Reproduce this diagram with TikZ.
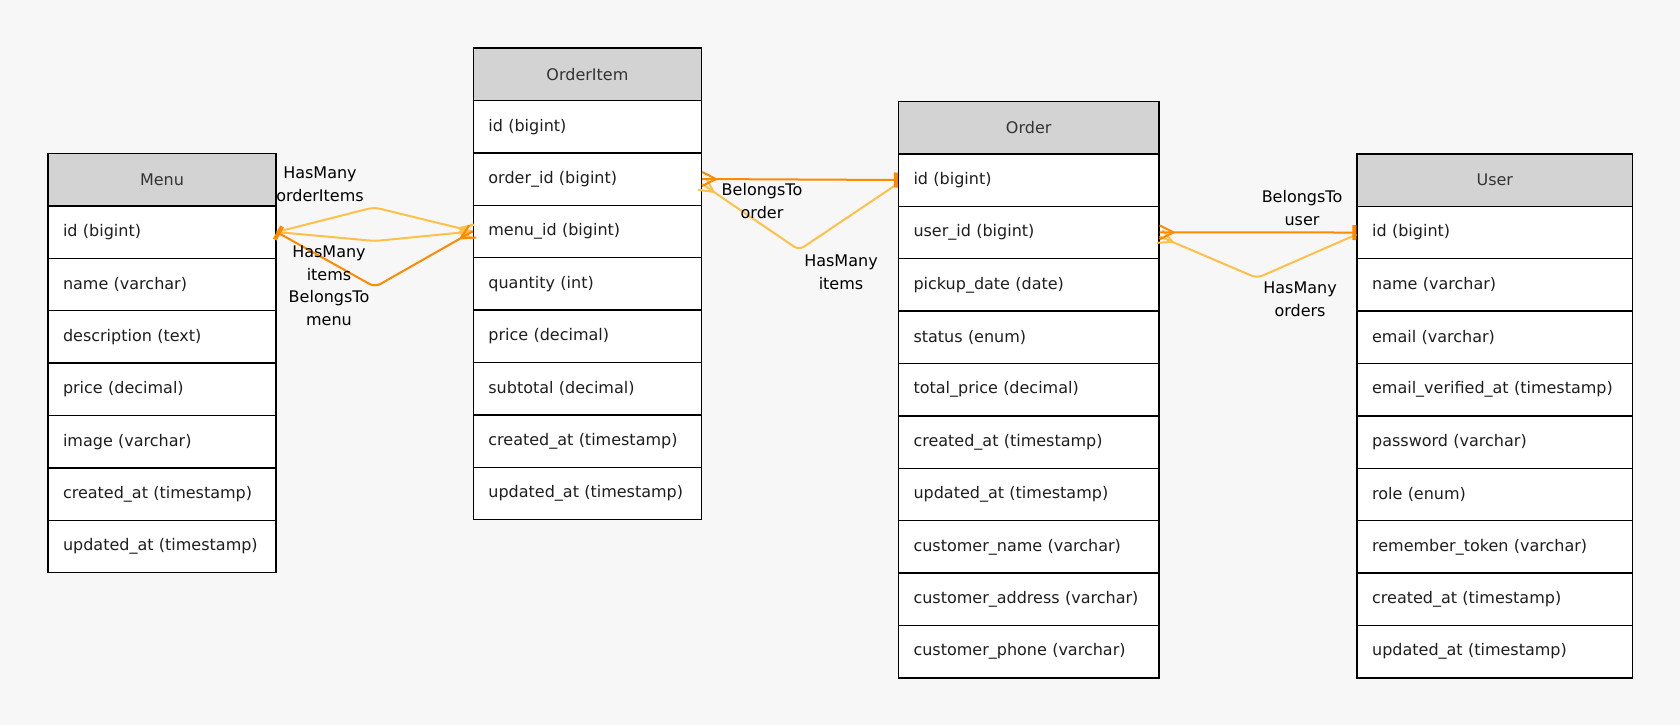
\documentclass[tikz,border=0pt]{standalone}
\usepackage{fontspec}
\setmainfont{DejaVu Sans}
\usetikzlibrary{arrows.meta}
\definecolor{bgc}{HTML}{F7F7F7}
\definecolor{hdrgray}{HTML}{D3D3D3}
\definecolor{hdrtext}{HTML}{333333}
\definecolor{rowtext}{HTML}{1E1E1E}
\definecolor{darkor}{HTML}{FF8A00}
\definecolor{lightor}{HTML}{FFC04A}
\pgfdeclarearrow{
  name = Crow,
  parameters = {\the\pgfarrowlength,\the\pgfarrowwidth},
  setup code = {
    \pgfarrowssettipend{0pt}
    \pgfarrowssetlineend{0pt}
    \pgfarrowssetbackend{-\pgfarrowlength}
    \pgfarrowssetvisualbackend{-\pgfarrowlength}
    \pgfarrowshullpoint{0pt}{.5\pgfarrowwidth}
    \pgfarrowshullpoint{0pt}{-.5\pgfarrowwidth}
    \pgfarrowshullpoint{-\pgfarrowlength}{0pt}
    \pgfarrowssavethe\pgfarrowlength
    \pgfarrowssavethe\pgfarrowwidth
  },
  drawing code = {
    \pgfsetdash{}{0pt}
    \pgfsetroundjoin
    \pgfpathmoveto{\pgfqpoint{0pt}{.5\pgfarrowwidth}}
    \pgfpathlineto{\pgfqpoint{-\pgfarrowlength}{0pt}}
    \pgfpathlineto{\pgfqpoint{0pt}{-.5\pgfarrowwidth}}
    \pgfusepathqstroke
  },
  defaults = {length=7pt, width=6pt}
}
\newcommand{\ertable}[6]{%
  \node[hdr, minimum width=#4*0.5pt] (#1-0) at (#2,#3) {#5};
  \foreach \r [count=\k] in {#6} {
    \node[rowcell, text width=#4*0.5pt-15pt] (#1-\k) at (#2,{#3+\k*52.4}) {\mbox{\r}};
  }%
}
\begin{document}
\begin{tikzpicture}[x=0.5pt,y=-0.5pt,
  hdr/.style={draw=black, line width=0.7pt, fill=hdrgray, anchor=north west,
    minimum height=26.2pt, inner sep=0pt, text=hdrtext,
    font=\fontsize{8pt}{10pt}\selectfont},
  rowcell/.style={draw=black, line width=0.7pt, fill=white, anchor=north west,
    minimum height=26.2pt, inner xsep=7.5pt, inner ysep=0pt, align=left,
    text=rowtext, font=\fontsize{8pt}{10pt}\selectfont},
  rel/.style={line width=1pt, rounded corners=3pt},
  hasmany/.style={rel, draw=lightor},
  belongs/.style={rel, draw=darkor},
  lbl/.style={align=center, inner sep=0pt, text=black,
    font=\fontsize{8pt}{11.5pt}\selectfont}]
\fill[bgc] (0,0) rectangle (1680,725);
\useasboundingbox (0,0) rectangle (1680,725);

\ertable{menu}{47.3}{152.7}{228}{Menu}{id (bigint),name (varchar),description (text),price (decimal),image (varchar),created\_at (timestamp),updated\_at (timestamp)}
\ertable{oi}{472.7}{47.3}{228}{OrderItem}{id (bigint),order\_id (bigint),menu\_id (bigint),quantity (int),price (decimal),subtotal (decimal),created\_at (timestamp),updated\_at (timestamp)}
\ertable{ord}{897.8}{100.7}{260.4}{Order}{id (bigint),user\_id (bigint),pickup\_date (date),status (enum),total\_price (decimal),created\_at (timestamp),updated\_at (timestamp),customer\_name (varchar),customer\_address (varchar),customer\_phone (varchar)}
\ertable{usr}{1356.4}{153.2}{275.4}{User}{id (bigint),name (varchar),email (varchar),email\_verified\_at (timestamp),password (varchar),role (enum),remember\_token (varchar),created\_at (timestamp),updated\_at (timestamp)}

\coordinate (b1) at (374,207.3);
\coordinate (b2) at (375,241);
\coordinate (b3) at (375,287);
\coordinate (b4) at (799,250);
\coordinate (b5) at (1257,278);

% Menu <-> OrderItem
\draw[hasmany, -{Crow[length=7pt,width=7pt]}] (menu-1.east) -- (b1) -- (oi-3.west);
\draw[hasmany, -{Crow[length=7pt,width=7pt]}] (menu-1.east) -- (b2) -- (oi-3.west);
\draw[belongs, {Rectangle[length=2pt,width=7.5pt]}-{Crow[length=7pt,width=7pt]}] (menu-1.east) -- (b3) -- (oi-3.west);

% OrderItem <-> Order
\draw[hasmany, {Crow[length=7pt,width=7pt]}-] ([yshift=-2.5pt]oi-2.east) -- (b4) -- ([yshift=-1.8pt]ord-1.west);
\draw[belongs, {Crow[length=7pt,width=7pt]}-{Rectangle[length=2pt,width=7.5pt]}] (oi-2.east) -- (ord-1.west);

% Order <-> User
\draw[hasmany, {Crow[length=7pt,width=7pt]}-] ([yshift=-2pt]ord-2.east) -- (b5) -- ([yshift=-1pt]usr-1.west);
\draw[belongs, {Crow[length=7pt,width=7pt]}-{Rectangle[length=2pt,width=7.5pt]}] (ord-2.east) -- (usr-1.west);

% labels
\node[lbl] (l1) at (320,184) {HasMany\\orderItems};
\node[lbl] (l2) at (329,263) {HasMany\\items};
\node[lbl] (l3) at (329,308.5) {BelongsTo\\menu};
\node[lbl] (l4) at (762,201.5) {BelongsTo\\order};
\node[lbl] (l5) at (841,272) {HasMany\\items};
\node[lbl] (l6) at (1302,208.5) {BelongsTo\\user};
\node[lbl] (l7) at (1300,299) {HasMany\\orders};
\end{tikzpicture}
\end{document}
